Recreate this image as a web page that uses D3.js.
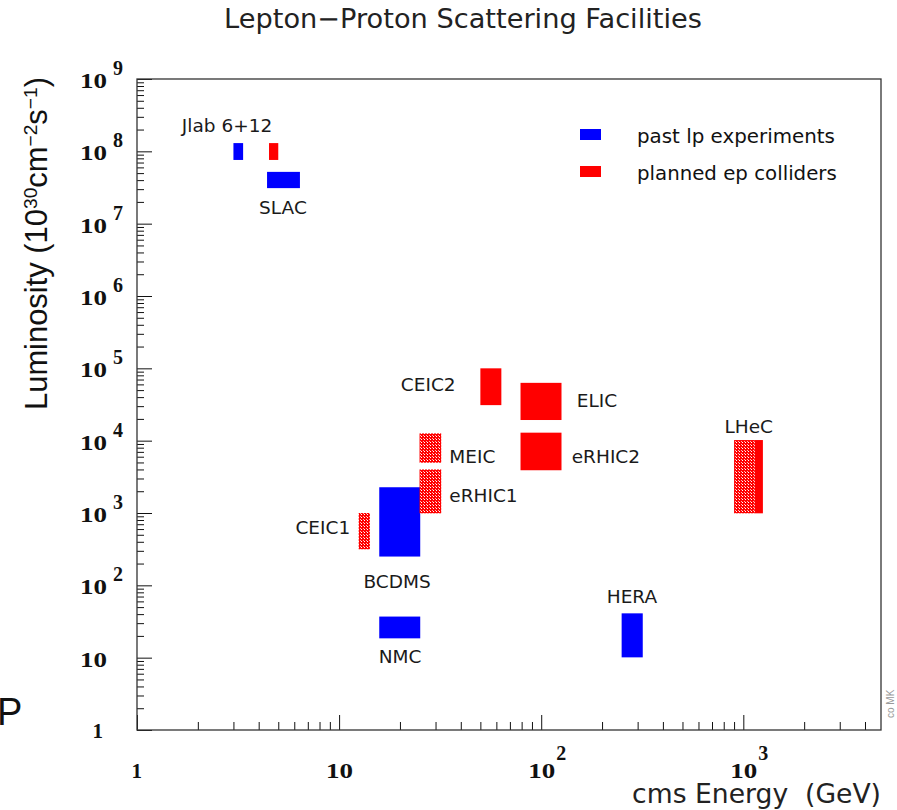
<!DOCTYPE html>
<html><head><meta charset="utf-8">
<script src="https://cdn.jsdelivr.net/npm/d3@7"></script>
<style>body{margin:0;background:#fff} svg{display:block}</style>
</head><body>
<svg id="c" width="897" height="810"></svg>
<script>
// ---- data ----
const facilityNames = ["Jlab 6","Jlab 12","SLAC","BCDMS","NMC","HERA","CEIC1","MEIC","eRHIC1","CEIC2","ELIC","eRHIC2","LHeC a","LHeC b"];
const energyLow  = [3.0, 4.5, 4.4, 15.8, 15.8, 250, 12.5, 25, 25, 50, 79, 79, 900, 1140];
const energyHigh = [3.35, 5.0, 6.4, 25.2, 25.2, 318, 14.2, 32, 32, 63.5, 126, 126, 1140, 1250];
const lumiLow    = [7.6e7, 7.6e7, 3.1e7, 250, 18.5, 10.1, 315, 4.96e3, 990, 3.1e4, 1.93e4, 3.9e3, 990, 990];
const lumiHigh   = [1.3e8, 1.3e8, 5.2e7, 2270, 37, 41, 1000, 1.26e4, 4.0e3, 1.0e5, 6.3e4, 1.29e4, 1.02e4, 1.02e4];
const facilityGroup = ["past","planned","past","past","past","past","planned","planned","planned","planned","planned","planned","planned","planned"];
const facilityFill  = ["solid","solid","solid","solid","solid","solid","dots","dots","dots","solid","solid","solid","dots","solid"];

const labelTexts  = ["Jlab 6+12","SLAC","CEIC2","ELIC","MEIC","eRHIC1","eRHIC2","CEIC1","BCDMS","HERA","NMC","LHeC"];
const labelEnergy = [1.667, 4.02, 20.2, 150, 35.1, 35.1, 141.6, 6.08, 13.2, 211, 15.7, 807];
const labelLumi   = [1.85e8, 1.36e7, 4.86e4, 2.92e4, 4.91e3, 1.42e3, 4.91e3, 512, 91.9, 57, 8.44, 1.28e4];

const legendTexts = ["past lp experiments","planned ep colliders"];
const legendGroups = ["past","planned"];

const xTickValues = [1,10,100,1000];
const xTickBase = ["1","10","10","10"];
const xTickExp  = ["","","2","3"];
const yTickValues = [1,1e1,1e2,1e3,1e4,1e5,1e6,1e7,1e8,1e9];
const yTickBase = ["1","10","10","10","10","10","10","10","10","10"];
const yTickExp  = ["","","2","3","4","5","6","7","8","9"];

// ---- drawing ----
const svg = d3.select("#c");
const L = 137, R = 881, T = 79, B = 730;
const x = d3.scaleLog().domain([1, 4800]).range([L, R]);
const y = d3.scaleLog().domain([1, 1e9]).range([B, T]);
const colors = {past:"#0000ff", planned:"#ff0000"};

const defs = svg.append("defs");
const pat = defs.append("pattern").attr("id","dots").attr("width",3).attr("height",3).attr("patternUnits","userSpaceOnUse");
pat.append("rect").attr("width",3).attr("height",3).attr("fill","#ff0000");
pat.append("rect").attr("x",1).attr("y",1).attr("width",1).attr("height",1).attr("fill","#ffffff");
pat.append("rect").attr("x",0).attr("y",0).attr("width",1).attr("height",1).attr("fill","#ffb0b0");

function fit(sel, w){
  const bw = sel.node().getBBox().width;
  const fs = parseFloat(sel.attr("font-size"));
  sel.attr("font-size", fs*w/bw);
}

// minor ticks
const minorX = [], minorY = [];
for (let e=0;e<4;e++) for (let k=2;k<=9;k++){ const v=k*Math.pow(10,e); if (v<4800) minorX.push(v); }
for (let e=0;e<9;e++) for (let k=2;k<=9;k++){ minorY.push(k*Math.pow(10,e)); }

function axisG(gen, tx, ty){
  const g = svg.append("g").attr("transform",`translate(${tx},${ty})`).call(gen);
  g.select(".domain").remove();
  g.selectAll("line").attr("stroke","#111").attr("stroke-width",1);
  g.selectAll("text").remove();
  return g;
}
axisG(d3.axisBottom(x).tickValues(minorX).tickSize(-8).tickSizeOuter(0), 0, B);
axisG(d3.axisBottom(x).tickValues(xTickValues).tickSize(-15).tickSizeOuter(0), 0, B);
axisG(d3.axisLeft(y).tickValues(minorY).tickSize(-7).tickSizeOuter(0), L, 0);
axisG(d3.axisLeft(y).tickValues(yTickValues).tickSize(-15).tickSizeOuter(0), L, 0);

// frame
svg.append("rect").attr("x",L).attr("y",T).attr("width",R-L).attr("height",B-T)
  .attr("fill","none").attr("stroke","#333").attr("stroke-width",1.3);

// boxes
const idx = d3.range(facilityNames.length);
svg.append("g").selectAll("rect").data(idx).join("rect")
  .attr("x", i => x(energyLow[i]))
  .attr("width", i => x(energyHigh[i]) - x(energyLow[i]))
  .attr("y", i => y(lumiHigh[i]))
  .attr("height", i => y(lumiLow[i]) - y(lumiHigh[i]))
  .attr("fill", i => facilityFill[i]==="dots" ? "url(#dots)" : colors[facilityGroup[i]]);

// labels
const sans = "DejaVu Sans, Verdana, sans-serif";
svg.append("g").selectAll("text").data(labelTexts).join("text")
  .attr("x",(d,i)=>x(labelEnergy[i])).attr("y",(d,i)=>y(labelLumi[i]))
  .attr("font-family",sans).attr("font-size",18.5).attr("fill","#1a1a1a").text(d=>d);

// legend
legendTexts.forEach((t,i)=>{
  const yy = 129 + i*37;
  svg.append("rect").attr("x",580).attr("y",yy).attr("width",21).attr("height",11).attr("fill",colors[legendGroups[i]]);
  const tx = svg.append("text").attr("x",637).attr("y",yy+14).attr("font-family",sans).attr("font-size",18.5).attr("fill","#111").text(t);
  fit(tx, i===0?198:200);
});

// tick labels
const serif = "Liberation Serif, Times New Roman, serif";
function tickLabel(xb, yb, base, exp, supX, supY){
  if (base.length===2){
    svg.append("text").attr("x",xb).attr("y",yb).attr("font-family",serif).attr("font-weight","bold")
      .attr("font-size",21).attr("textLength",27).attr("lengthAdjust","spacingAndGlyphs").attr("fill","#111").text(base);
  } else {
    svg.append("text").attr("x",xb+27).attr("y",yb).attr("text-anchor","end").attr("font-family",serif).attr("font-weight","bold")
      .attr("font-size",21).attr("fill","#111").text(base);
  }
  if (exp) svg.append("text").attr("x",supX).attr("y",supY).attr("font-family",serif).attr("font-weight","bold")
      .attr("font-size",20).attr("fill","#111").text(exp);
}
yTickValues.forEach((v,i)=>{
  const ty = y(v);
  if (yTickBase[i]==="1") tickLabel(103-27, ty+8, "1", "", 0, 0);
  else tickLabel(80, ty+9, yTickBase[i], yTickExp[i], 113, ty-4);
});
xTickValues.forEach((v,i)=>{
  const tx = x(v);
  if (xTickBase[i]==="1") tickLabel(tx+5-27, 778, "1", "", 0, 0);
  else tickLabel(tx-13, 778, xTickBase[i], xTickExp[i], tx+15, 760);
});

// title
const title = svg.append("text").attr("x",463).attr("y",28).attr("text-anchor","middle")
  .attr("font-family",sans).attr("font-size",22).attr("fill","#222").text("Lepton\u2212Proton Scattering Facilities");
fit(title, 478);

// x title
const xt = svg.append("text").attr("x",881).attr("y",803).attr("text-anchor","end")
  .attr("font-family",sans).attr("font-size",22).attr("fill","#222").text("cms Energy \u00a0(GeV)");
fit(xt, 249);

// y title
const yt = svg.append("text").attr("transform","translate(47,410) rotate(-90)")
  .attr("font-family","Liberation Sans, Arial, sans-serif").attr("font-size",26).attr("fill","#111");
yt.append("tspan").text("Luminosity (10");
yt.append("tspan").attr("dy",-10).attr("font-size","0.62em").text("30");
yt.append("tspan").attr("dy",10).text("cm");
yt.append("tspan").attr("dy",-10).attr("font-size","0.62em").text("\u22122");
yt.append("tspan").attr("dy",10).text("s");
yt.append("tspan").attr("dy",-10).attr("font-size","0.62em").text("\u22121");
yt.append("tspan").attr("dy",10).text(")");
fit(yt, 333);

// stray marks
svg.append("text").attr("x",-3).attr("y",725).attr("font-family","Liberation Sans, Arial, sans-serif")
  .attr("font-size",38).attr("fill","#111").text("P");
svg.append("text").attr("transform","translate(894,718) rotate(-90)")
  .attr("font-family","Liberation Sans, Arial, sans-serif").attr("font-size",10).attr("fill","#999").text("co MK");
</script>
</body></html>
